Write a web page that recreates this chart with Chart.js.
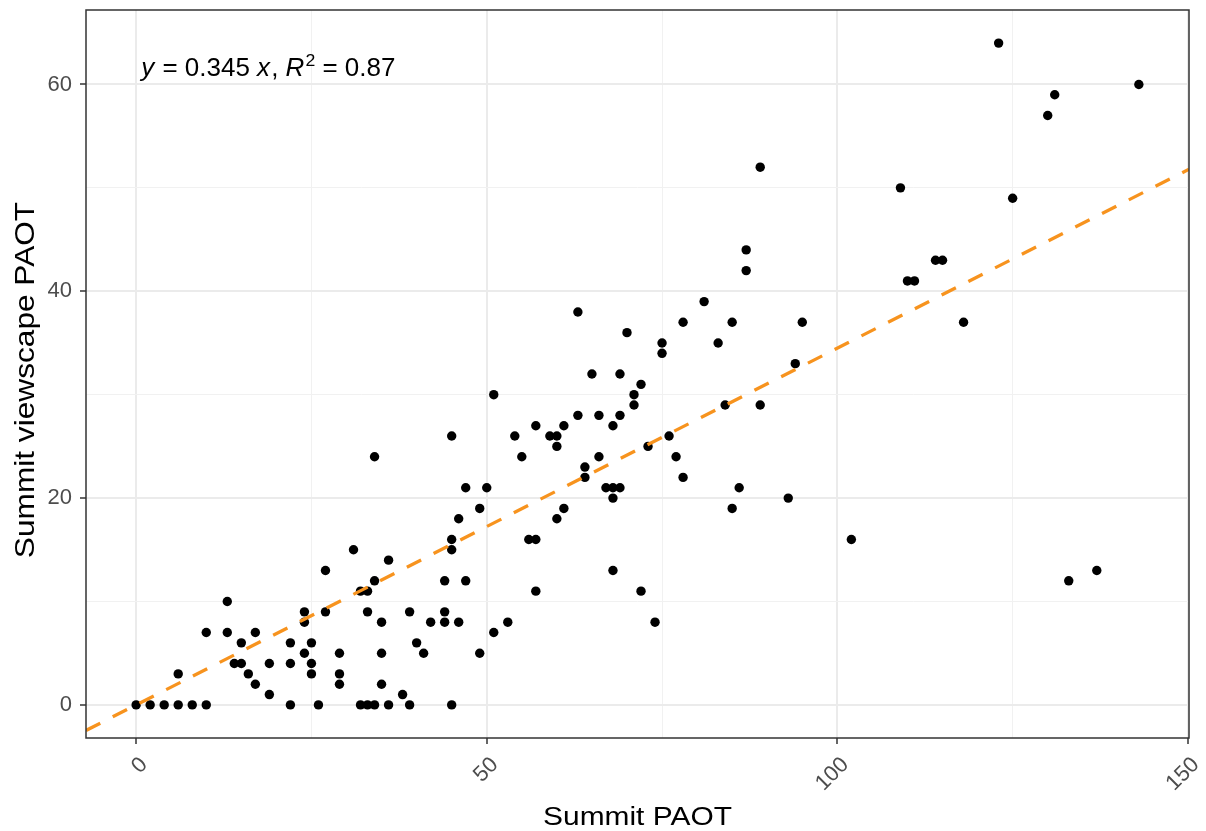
<!DOCTYPE html>
<html><head><meta charset="utf-8">
<script src="https://cdn.jsdelivr.net/npm/chart.js@4.4.1/dist/chart.umd.min.js"></script>
<style>html,body{margin:0;padding:0;background:#fff;}</style>
</head><body>
<canvas id="c" width="1206" height="831"></canvas>
<script>
const summitPAOT = [
  0,2,4,6,8,10,22,26,32,33,34,36,39,45,
  19,38,
  17,29,35,
  6,16,25,29,
  14,15,19,22,25,
  24,29,35,41,49,
  15,22,25,40,
  10,13,17,51,
  24,35,42,44,46,53,74,
  24,27,33,39,44,
  13,
  32,33,57,72,
  34,44,47,133,
  27,68,137,
  36,
  31,45,
  45,56,57,102,
  46,60,
  49,61,85,
  68,93,
  47,50,67,68,69,86,
  64,78,
  64,
  34,55,66,77,
  60,73,
  45,54,59,60,76,
  57,61,68,
  63,66,69,
  71,84,89,
  51,71,
  72,
  65,69,
  94,
  75,
  75,83,
  70,
  78,85,95,118,
  63,
  81,
  110,111,
  87,
  114,115,
  87,
  125,
  109,
  89,
  130,
  131,
  143,
  123
];
const viewscapePAOT = [
  0,0,0,0,0,0,0,0,0,0,0,0,0,0,
  1,1,
  2,2,2,
  3,3,3,3,
  4,4,4,4,4,
  5,5,5,5,5,
  6,6,6,6,
  7,7,7,7,
  8,8,8,8,8,8,8,
  9,9,9,9,9,
  10,
  11,11,11,11,
  12,12,12,12,
  13,13,13,
  14,
  15,15,
  16,16,16,16,
  18,18,
  19,19,19,
  20,20,
  21,21,21,21,21,21,
  22,22,
  23,
  24,24,24,24,
  25,25,
  26,26,26,26,26,
  27,27,27,
  28,28,28,
  29,29,29,
  30,30,
  31,
  32,32,
  33,
  34,
  35,35,
  36,
  37,37,37,37,
  38,
  39,
  41,41,
  42,
  43,43,
  44,
  49,
  50,
  52,
  57,
  59,
  60,
  64
];
const slope = 0.345;
const rSquared = 0.87;
const xRange = [-7.15, 150.15];
const yRange = [-3.2, 67.2];
const xTickValues = [0,25,50,75,100,125,150];
const xMajorTicks = [0,50,100,150];
const yTickValues = [0,10,20,30,40,50,60];
const yMajorTicks = [0,20,40,60];
const xTitle = 'Summit PAOT';
const yTitle = 'Summit viewscape PAOT';

const FONT = "'Liberation Sans', Arial, sans-serif";
const points = summitPAOT.map((v, i) => ({x: v, y: viewscapePAOT[i]}));
const fitLine = xRange.map(v => ({x: v, y: slope * v}));

const isMajor = (arr, v) => arr.some(m => Math.abs(m - v) < 1e-9);
const gridColor = (arr) => (ctx) => (ctx.tick && isMajor(arr, ctx.tick.value)) ? '#EBEBEB' : '#F1F1F1';
const gridWidth = (arr) => (ctx) => (ctx.tick && isMajor(arr, ctx.tick.value)) ? 2 : 1;
const tickColor = (arr) => (ctx) => (ctx.tick && isMajor(arr, ctx.tick.value)) ? '#333333' : 'rgba(0,0,0,0)';
const noPad = (s) => { s.paddingLeft = 0; s.paddingRight = 0; s.paddingTop = 0; s.paddingBottom = 0; };

const borderPlugin = {
  id: 'panelBorder',
  afterDatasetsDraw(chart) {
    const {ctx, chartArea: a} = chart;
    ctx.save();
    ctx.strokeStyle = '#333333';
    ctx.lineWidth = 1.5;
    ctx.strokeRect(a.left, a.top, a.right - a.left, a.bottom - a.top);
    ctx.restore();
  }
};

const titlesPlugin = {
  id: 'axisTitles',
  afterDraw(chart) {
    const {ctx, chartArea: a} = chart;
    ctx.save();
    ctx.fillStyle = '#000';
    ctx.textAlign = 'center';
    ctx.textBaseline = 'alphabetic';
    // x title
    ctx.save();
    ctx.translate((a.left + a.right) / 2, 825);
    ctx.scale(1.15, 1);
    ctx.font = '26px ' + FONT;
    ctx.fillText(xTitle, 0, 0);
    ctx.restore();
    // y title
    ctx.save();
    ctx.translate(33.5, (a.top + a.bottom) / 2 + 6);
    ctx.rotate(-Math.PI / 2);
    ctx.scale(1.13, 1);
    ctx.font = '28px ' + FONT;
    ctx.fillText(yTitle, 0, 0);
    ctx.restore();
    ctx.restore();
  }
};

const eqPlugin = {
  id: 'equation',
  afterDatasetsDraw(chart) {
    const {ctx, scales: {x, y}} = chart;
    const base = y.getPixelForValue(60.8);
    const parts = [
      {t: 'y', it: true},
      {t: ' = ' + slope + ' '},
      {t: 'x', it: true},
      {t: ', '},
      {t: 'R', it: true},
      {t: '2', sup: true},
      {t: ' = ' + rSquared}
    ];
    ctx.save();
    ctx.translate(x.getPixelForValue(0) + 5, base);
    ctx.scale(1.04, 1);
    ctx.fillStyle = '#000';
    ctx.textBaseline = 'alphabetic';
    ctx.textAlign = 'left';
    let px = 0;
    for (const p of parts) {
      const s = p.sup ? 17 : 25;
      ctx.font = (p.it ? 'italic ' : '') + s + 'px ' + FONT;
      ctx.fillText(p.t, px, p.sup ? -10 : 0);
      px += ctx.measureText(p.t).width + (p.it ? 1 : 0);
    }
    ctx.restore();
  }
};

new Chart(document.getElementById('c'), {
  data: {
    datasets: [
      {
        type: 'line',
        data: fitLine,
        borderColor: '#F7931E',
        borderWidth: 3.3,
        borderDash: [16, 14],
        pointRadius: 0,
        fill: false,
        order: 0
      },
      {
        type: 'scatter',
        data: points,
        backgroundColor: '#000000',
        borderWidth: 0,
        pointRadius: 4.7,
        pointHoverRadius: 4.7,
        order: 1
      }
    ]
  },
  options: {
    responsive: false,
    animation: false,
    devicePixelRatio: 1,
    layout: {padding: {top: 10, right: 17, left: 0, bottom: 0}},
    plugins: {legend: {display: false}, tooltip: {enabled: false}},
    scales: {
      x: {
        type: 'linear',
        min: xRange[0], max: xRange[1],
        afterBuildTicks: (s) => { s.ticks = xTickValues.map(v => ({value: v})); },
        afterFit: (s) => { s.height = 93; noPad(s); },
        border: {display: false},
        grid: {
          color: gridColor(xMajorTicks),
          lineWidth: gridWidth(xMajorTicks),
          drawTicks: true,
          tickLength: 6,
          tickWidth: 1.5,
          tickColor: tickColor(xMajorTicks)
        },
        ticks: {
          autoSkip: false,
          minRotation: 45, maxRotation: 45,
          padding: 8,
          labelOffset: 8,
          color: '#4D4D4D',
          font: {family: FONT, size: 22},
          callback: (v) => isMajor(xMajorTicks, v) ? String(v) : ''
        },
        title: {display: false}
      },
      y: {
        type: 'linear',
        min: yRange[0], max: yRange[1],
        afterBuildTicks: (s) => { s.ticks = yTickValues.map(v => ({value: v})); },
        afterFit: (s) => { s.width = 86; noPad(s); },
        border: {display: false},
        grid: {
          color: gridColor(yMajorTicks),
          lineWidth: gridWidth(yMajorTicks),
          drawTicks: true,
          tickLength: 6,
          tickWidth: 1.5,
          tickColor: tickColor(yMajorTicks)
        },
        ticks: {
          autoSkip: false,
          padding: 8,
          color: '#4D4D4D',
          font: {family: FONT, size: 22},
          callback: (v) => isMajor(yMajorTicks, v) ? String(v) : ''
        },
        title: {display: false}
      }
    }
  },
  plugins: [borderPlugin, eqPlugin, titlesPlugin]
});
</script>
</body></html>
